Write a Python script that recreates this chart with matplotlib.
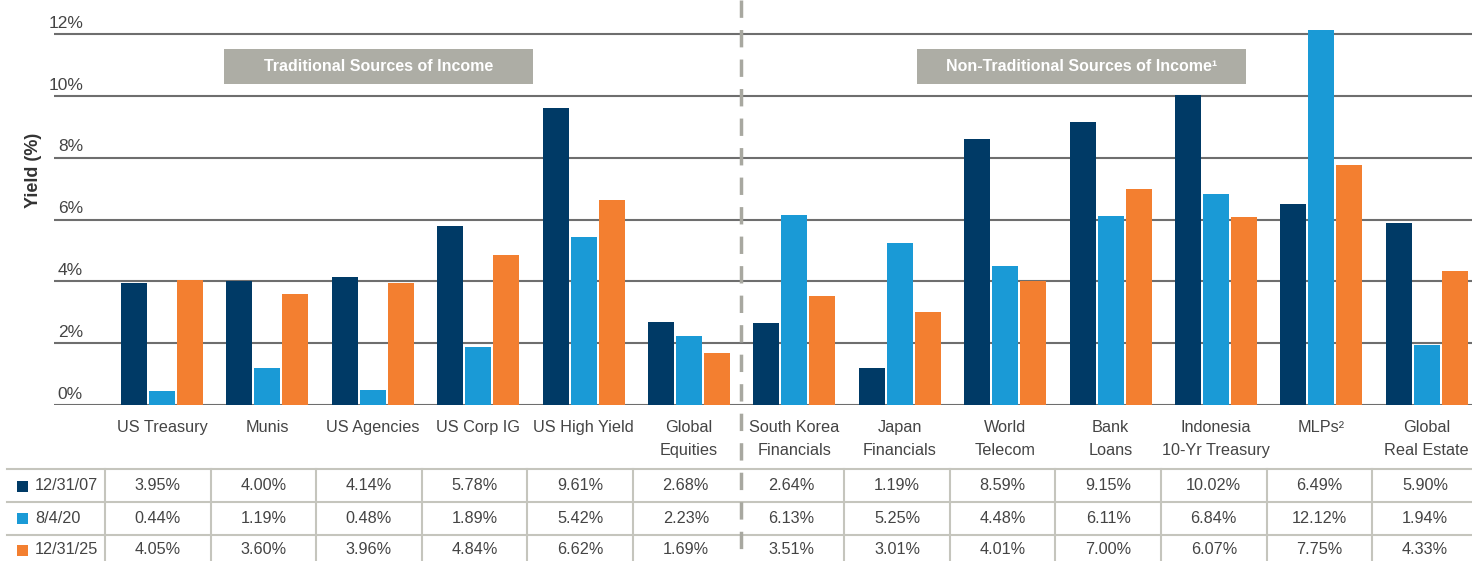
import matplotlib
matplotlib.use("Agg")
import matplotlib.pyplot as plt
from matplotlib.patches import Rectangle
from matplotlib.lines import Line2D
import matplotlib.transforms as mtransforms

plt.rcParams['font.family'] = ['Liberation Sans', 'DejaVu Sans']

categories = ["US Treasury", "Munis", "US Agencies", "US Corp IG", "US High Yield",
              "Global\nEquities", "South Korea\nFinancials", "Japan\nFinancials",
              "World\nTelecom", "Bank\nLoans", "Indonesia\n10-Yr Treasury",
              "MLPs\u00b2", "Global\nReal Estate"]
series_names = ["12/31/07", "8/4/20", "12/31/25"]
y_2007 = [3.95, 4.00, 4.14, 5.78, 9.61, 2.68, 2.64, 1.19, 8.59, 9.15, 10.02, 6.49, 5.90]
y_2020 = [0.44, 1.19, 0.48, 1.89, 5.42, 2.23, 6.13, 5.25, 4.48, 6.11, 6.84, 12.12, 1.94]
y_2025 = [4.05, 3.60, 3.96, 4.84, 6.62, 1.69, 3.51, 3.01, 4.01, 7.00, 6.07, 7.75, 4.33]
series = [y_2007, y_2020, y_2025]
colors = ["#003a66", "#1a9ad6", "#f37f30"]
yticks = [0, 2, 4, 6, 8, 10, 12]
ytick_labels = ["0%", "2%", "4%", "6%", "8%", "10%", "12%"]

W, H = 1472, 561
fig = plt.figure(figsize=(W / 100, H / 100), dpi=100)
TXT = "#444444"

def fx(px):
    return px / W

def fy(py):
    return 1 - py / H

# axes: left at px 54, right at 1472, bottom at 405, top at 0
ax = fig.add_axes([fx(54), fy(405), fx(1472) - fx(54), fy(0) - fy(405)])
spacing = 105.4
c0 = 162
xs = list(range(len(categories)))
ax.set_xlim((54 - c0) / spacing, (1472 - c0) / spacing)
ax.set_ylim(0, 405 / (371 / 12))

bw = 26 / spacing
off = 28 / spacing
for k, (vals, col) in enumerate(zip(series, colors)):
    ax.bar([x + (k - 1) * off for x in xs], vals, width=bw, color=col, zorder=3)

for v in yticks:
    ax.axhline(v, color="#6e6e6e", lw=1.5, zorder=2)
blend = mtransforms.blended_transform_factory(ax.transAxes, ax.transData)
for v, lab in zip(yticks, ytick_labels):
    ax.text(29 / 1418, v + 0.2, lab, transform=blend, ha="right", va="baseline",
            fontsize=12.5, color=TXT)

for s in ax.spines.values():
    s.set_visible(False)
ax.set_yticks([])
ax.set_xticks(xs)
ax.set_xticklabels(categories, fontsize=11.7, color=TXT, linespacing=1.65,
                   va="top")
ax.tick_params(axis="x", length=0, pad=11)

fig.text(fx(33), fy(170), "Yield (%)", rotation=90, ha="center", va="center",
         fontsize=13, fontweight="bold", color="#333333")

# header boxes
for (x0, x1, label) in [(224, 533, "Traditional Sources of Income"),
                        (917, 1246, "Non-Traditional Sources of Income\u00b9")]:
    fig.patches.append(Rectangle((fx(x0), fy(84)), fx(x1) - fx(x0), fy(49) - fy(84),
                                 transform=fig.transFigure, facecolor="#adada5",
                                 edgecolor="none", zorder=5))
    fig.text(fx((x0 + x1) / 2), fy(66.5), label, ha="center", va="center",
             fontsize=11.5, fontweight="bold", color="white", zorder=6)

# dashed separator
fig.lines.append(Line2D([fx(741), fx(741)], [fy(0), fy(561)], transform=fig.transFigure,
                        color="#a8a8a0", lw=2.5, dashes=(5, 3.5), zorder=4))

# table
grid_col = "#c5c5bd"
row_lines = [469, 502, 535]
for yl in row_lines:
    fig.lines.append(Line2D([fx(7), fx(1472)], [fy(yl), fy(yl)], transform=fig.transFigure,
                            color=grid_col, lw=1.5))
bstart, bstep = 105, 105.6
for k in range(13):
    xb = bstart + bstep * k
    if k == 6:
        continue
    fig.lines.append(Line2D([fx(xb), fx(xb)], [fy(469), fy(561)], transform=fig.transFigure,
                            color=grid_col, lw=1.5))
row_centers = [486, 518.5, 550]
for r, (name, vals, col) in enumerate(zip(series_names, series, colors)):
    yc = row_centers[r]
    fig.patches.append(Rectangle((fx(17), fy(yc + 5.5)), fx(11), fy(0) - fy(11),
                                 transform=fig.transFigure, facecolor=col,
                                 edgecolor="none"))
    fig.text(fx(35), fy(yc), name, ha="left", va="center", fontsize=11.7, color=TXT)
    for i, v in enumerate(vals):
        xc = bstart + bstep * (i + 0.5)
        fig.text(fx(xc), fy(yc), f"{v:.2f}%", ha="center", va="center",
                 fontsize=11.7, color=TXT)

fig.savefig("out.png", dpi=100)
